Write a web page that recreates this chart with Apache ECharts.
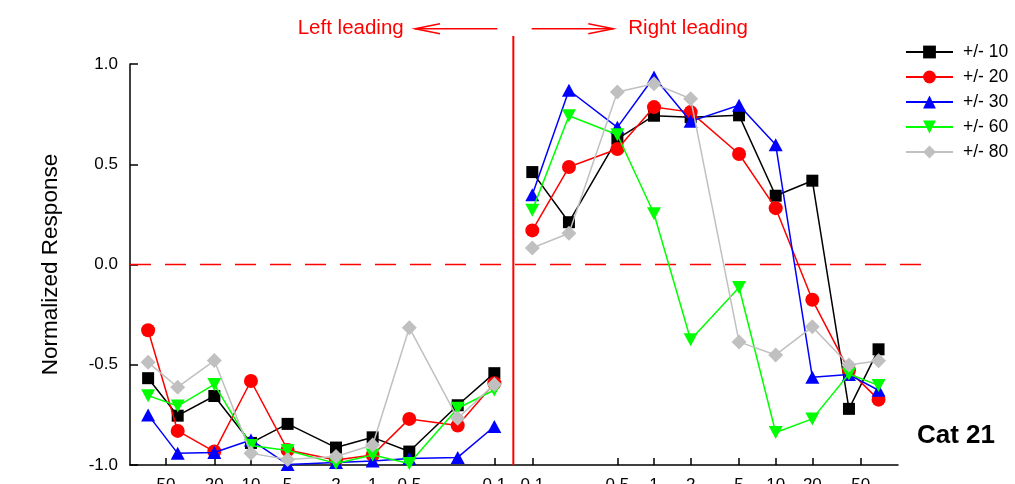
<!DOCTYPE html>
<html><head><meta charset="utf-8">
<script src="https://cdn.jsdelivr.net/npm/echarts@6/dist/echarts.min.js"></script>
<style>html,body{margin:0;padding:0;background:#fff;overflow:hidden}#c{width:1015px;height:484px}</style>
</head><body><div id="c"></div>
<script>
// ---- data ----
const leftDoses  = [70, 40, 20, 10, 5, 2, 1, 0.5, 0.2, 0.1];
const rightDoses = [0.1, 0.2, 0.5, 1, 2, 5, 10, 20, 40, 70];
const leftTicks  = [50, 20, 10, 5, 2, 1, 0.5, 0.1];
const rightTicks = [0.1, 0.5, 1, 2, 5, 10, 20, 50];
const yTicks = [-1, -0.5, 0, 0.5, 1];
const seriesNames = ['+/- 10', '+/- 20', '+/- 30', '+/- 60', '+/- 80'];

const pm10Left  = [-0.567, -0.754, -0.656, -0.890, -0.795, -0.913, -0.862, -0.933, -0.702, -0.542];
const pm10Right = [0.461, 0.211, 0.627, 0.742, 0.735, 0.744, 0.343, 0.418, -0.720, -0.423];
const pm20Left  = [-0.328, -0.830, -0.933, -0.581, -0.925, -0.975, -0.950, -0.770, -0.803, -0.592];
const pm20Right = [0.170, 0.486, 0.576, 0.785, 0.760, 0.551, 0.281, -0.176, -0.528, -0.674];
const pm30Left  = [-0.750, -0.942, -0.938, -0.875, -0.997, -0.988, -0.980, -0.967, -0.962, -0.808];
const pm30Right = [0.348, 0.869, 0.684, 0.935, 0.714, 0.794, 0.597, -0.562, -0.549, -0.627];
const pm60Left  = [-0.654, -0.706, -0.598, -0.903, -0.928, -0.992, -0.950, -0.992, -0.717, -0.626];
const pm60Right = [0.270, 0.742, 0.647, 0.253, -0.375, -0.115, -0.838, -0.770, -0.546, -0.603];
const pm80Left  = [-0.488, -0.612, -0.479, -0.942, -0.972, -0.958, -0.900, -0.315, -0.767, -0.598];
const pm80Right = [0.082, 0.156, 0.860, 0.902, 0.827, -0.386, -0.451, -0.311, -0.501, -0.480];

// ---- mirrored log position (left side negative, right side positive) ----
const GAP = 0.156;
const pos = (v, side) => side * (Math.log10(v) + 1 + GAP);

const tickPos = [], tickText = [];
leftTicks.forEach(v => { tickPos.push(pos(v, -1)); tickText.push(String(v)); });
rightTicks.forEach(v => { tickPos.push(pos(v, 1)); tickText.push(String(v)); });

function build(lv, rv) {
  const d = [];
  leftDoses.forEach((x, i) => d.push([pos(x, -1), lv[i]]));
  d.push(['-', '-']);
  rightDoses.forEach((x, i) => d.push([pos(x, 1), rv[i]]));
  return d;
}

const FONT = "'Liberation Sans', Arial, sans-serif";
const colors = ['#000000', '#ff0000', '#0000ff', '#00ff00', '#c0c0c0'];
const symbols = ['rect', 'circle', 'triangle', 'triangle', 'diamond'];
const rotates = [0, 0, 0, 180, 0];
const sizes = [12, 14, [14, 13], [14, 13], 15];
const values = [[pm10Left, pm10Right], [pm20Left, pm20Right], [pm30Left, pm30Right], [pm60Left, pm60Right], [pm80Left, pm80Right]];

const chart = echarts.init(document.getElementById('c'), null, {renderer: 'canvas'});
const GL = 130, GR = 117, GT = 64, GB = 19;

chart.setOption({
  animation: false,
  backgroundColor: '#fff',
  textStyle: {fontFamily: FONT},
  grid: {left: GL, right: GR, top: GT, bottom: GB, containLabel: false, outerBoundsMode: 'none'},
  legend: {
    data: seriesNames,
    left: 905, top: 43, orient: 'vertical', padding: 0,
    itemWidth: 47, itemHeight: 16, itemGap: 7,
    textStyle: {fontFamily: FONT, fontSize: 17.5, color: '#000', padding: [0, 0, 0, 5]}
  },
  xAxis: {
    type: 'value', min: -3.15, max: 3.161,
    axisLine: {show: true, onZero: false, lineStyle: {color: '#000', width: 1.5}},
    axisTick: {show: true, inside: true, length: 7, customValues: tickPos, lineStyle: {color: '#000', width: 1.5}},
    axisLabel: {
      customValues: tickPos, margin: 12, fontSize: 17, color: '#000', fontFamily: FONT,
      formatter: v => { let k = 0, b = 1e9; tickPos.forEach((p, i) => { if (Math.abs(p - v) < b) { b = Math.abs(p - v); k = i; } }); return tickText[k]; }
    },
    splitLine: {show: false}
  },
  yAxis: {
    type: 'value', min: -1, max: 1, interval: 0.5,
    name: 'Normalized Response', nameLocation: 'middle', nameGap: 68, nameRotate: 90,
    nameTextStyle: {fontSize: 22.5, color: '#000', fontFamily: FONT},
    axisLine: {show: true, onZero: false, lineStyle: {color: '#000', width: 1.5}},
    axisTick: {show: true, inside: true, length: 8, lineStyle: {color: '#000', width: 1.5}},
    axisLabel: {margin: 12, fontSize: 17, color: '#000', fontFamily: FONT,
      formatter: v => (Math.abs(v) < 1e-9 ? 0 : v).toFixed(1)},
    splitLine: {show: false}
  },
  series: seriesNames.map((n, i) => ({
    name: n, type: 'line',
    data: build(values[i][0], values[i][1]),
    connectNulls: false,
    symbol: symbols[i], symbolRotate: rotates[i], symbolSize: sizes[i],
    showAllSymbol: true, clip: false,
    itemStyle: {color: colors[i], borderWidth: 0},
    lineStyle: {color: colors[i], width: 1.5},
    emphasis: {disabled: true}, z: 2 + i
  }))
});

const x0 = chart.convertToPixel({xAxisIndex: 0}, 0);
const y0 = chart.convertToPixel({yAxisIndex: 0}, 0);
const yB = chart.convertToPixel({yAxisIndex: 0}, -1);
const RED = '#ff0000';
const AY = 28.7;
chart.setOption({
  graphic: [
    {type: 'line', shape: {x1: GL, y1: y0, x2: 923, y2: y0}, style: {stroke: RED, lineWidth: 1.5, lineDash: [21, 14]}, z: 1},
    {type: 'line', shape: {x1: x0, y1: 36, x2: x0, y2: yB}, style: {stroke: RED, lineWidth: 2}, z: 1},
    {type: 'line', shape: {x1: 497.3, y1: AY, x2: 415, y2: AY}, style: {stroke: RED, lineWidth: 1.5}},
    {type: 'polyline', shape: {points: [[440, AY - 5], [415, AY], [440, AY + 5]]}, style: {stroke: RED, lineWidth: 1.5, fill: null}},
    {type: 'line', shape: {x1: 531.7, y1: AY, x2: 613.3, y2: AY}, style: {stroke: RED, lineWidth: 1.5}},
    {type: 'polyline', shape: {points: [[588.3, AY - 5], [613.3, AY], [588.3, AY + 5]]}, style: {stroke: RED, lineWidth: 1.5, fill: null}},
    {type: 'text', x: 297.7, y: AY, style: {text: 'Left leading', fill: RED, fontSize: 20.5, fontFamily: FONT, verticalAlign: 'middle', align: 'left'}},
    {type: 'text', x: 628.3, y: AY, style: {text: 'Right leading', fill: RED, fontSize: 20.5, fontFamily: FONT, verticalAlign: 'middle', align: 'left'}},
    {type: 'text', x: 917, y: 435.7, style: {text: 'Cat 21', fill: '#000', fontSize: 26, fontWeight: 'bold', fontFamily: FONT, verticalAlign: 'middle', align: 'left'}}
  ]
});
</script></body></html>
